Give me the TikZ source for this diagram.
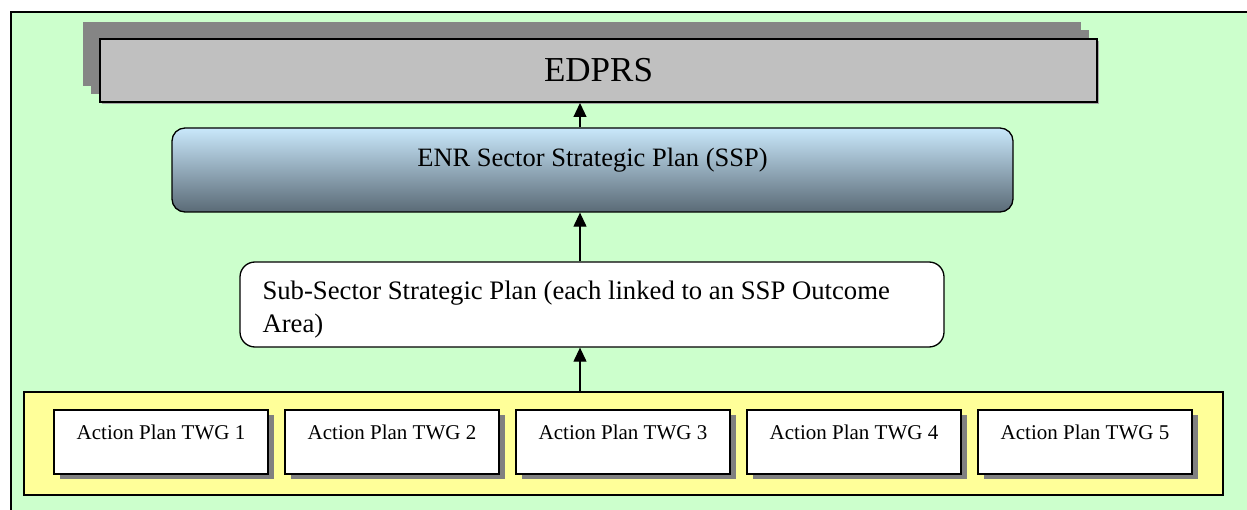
\documentclass[tikz,border=0pt]{standalone}
\usepackage{fontspec}
\setmainfont{Liberation Serif}
\usetikzlibrary{arrows.meta,shadows}

\definecolor{pagegreen}{HTML}{CCFFCC}
\definecolor{edprsgray}{HTML}{C0C0C0}
\definecolor{stackgray}{HTML}{858585}
\definecolor{ssptop}{HTML}{C9E8FB}
\definecolor{sspbottom}{HTML}{5A6A76}
\definecolor{twgyellow}{HTML}{FFFF99}
\definecolor{shadowgray}{HTML}{808080}

\tikzset{
  planbox/.style={draw, line width=1.3pt, fill=white, minimum width=214pt, minimum height=64pt, inner sep=0pt,
    drop shadow={shadow xshift=6pt, shadow yshift=-5pt, opacity=1, fill=shadowgray}},
  planlabel/.style={anchor=base, font=\fontsize{21}{25}\selectfont},
  uparrow/.style={line width=1.2pt, -{Triangle[length=14pt,width=13pt]}},
}

\begin{document}
\begin{tikzpicture}[x=1pt,y=-1pt]
	\useasboundingbox (0,0) rectangle (1247,510);
	\fill[pagegreen] (11,12) rectangle (1247,510);
	\draw[line width=2pt] (11,510) -- (11,12) -- (1247,12);

	% stacked plates behind EDPRS
	\fill[stackgray] (83,22) rectangle (1081,86);
	\fill[stackgray] (91,30) rectangle (1089,94);
	\node (edprs) at (598.5,70.5) [draw, line width=2pt, fill=edprsgray, minimum width=997pt, minimum height=63pt, font=\fontsize{35}{40}\selectfont,
		drop shadow={shadow xshift=2pt, shadow yshift=-2pt, opacity=1, fill=gray!70}] {EDPRS};

	\node (ssp) at (592.5,170) [draw, line width=1.3pt, rounded corners=13pt, top color=ssptop, bottom color=sspbottom, minimum width=841pt, minimum height=84pt] {};
	\node (ssplabel) [anchor=base, font=\fontsize{26.5}{30}\selectfont] at ([yshift=-39pt]ssp.north) {ENR Sector Strategic Plan (SSP)};

	\node (sub) at (592,304.5) [draw, line width=1.3pt, rounded corners=15pt, fill=white, minimum width=704pt, minimum height=85pt] {};
	\node (sublabel) [anchor=north west, inner sep=0pt, align=left, font=\fontsize{26.7}{33}\selectfont] at ([xshift=23pt,yshift=-19pt]sub.north west) {Sub-Sector Strategic Plan (each linked to an SSP Outcome\\Area)};

	\node (plans) at (623.5,443.5) [draw, line width=1.3pt, fill=twgyellow, minimum width=1199pt, minimum height=103pt] {};

	\node (twg1) at (161,442) [planbox] {};
	\node (twg1label) [planlabel] at ([yshift=-30pt]twg1.north) {Action Plan TWG 1};
	\node (twg2) at (392,442) [planbox] {};
	\node (twg2label) [planlabel] at ([yshift=-30pt]twg2.north) {Action Plan TWG 2};
	\node (twg3) at (623,442) [planbox] {};
	\node (twg3label) [planlabel] at ([yshift=-30pt]twg3.north) {Action Plan TWG 3};
	\node (twg4) at (854,442) [planbox] {};
	\node (twg4label) [planlabel] at ([yshift=-30pt]twg4.north) {Action Plan TWG 4};
	\node (twg5) at (1085,442) [planbox] {};
	\node (twg5label) [planlabel] at ([yshift=-30pt]twg5.north) {Action Plan TWG 5};

	% arrows up the chain
	\coordinate (spine) at (580,0);
	\draw[uparrow] (ssp.north -| spine) -- (edprs.south -| spine);
	\draw[uparrow] (sub.north -| spine) -- (ssp.south -| spine);
	\draw[uparrow] (plans.north -| spine) -- (sub.south -| spine);
\end{tikzpicture}
\end{document}
